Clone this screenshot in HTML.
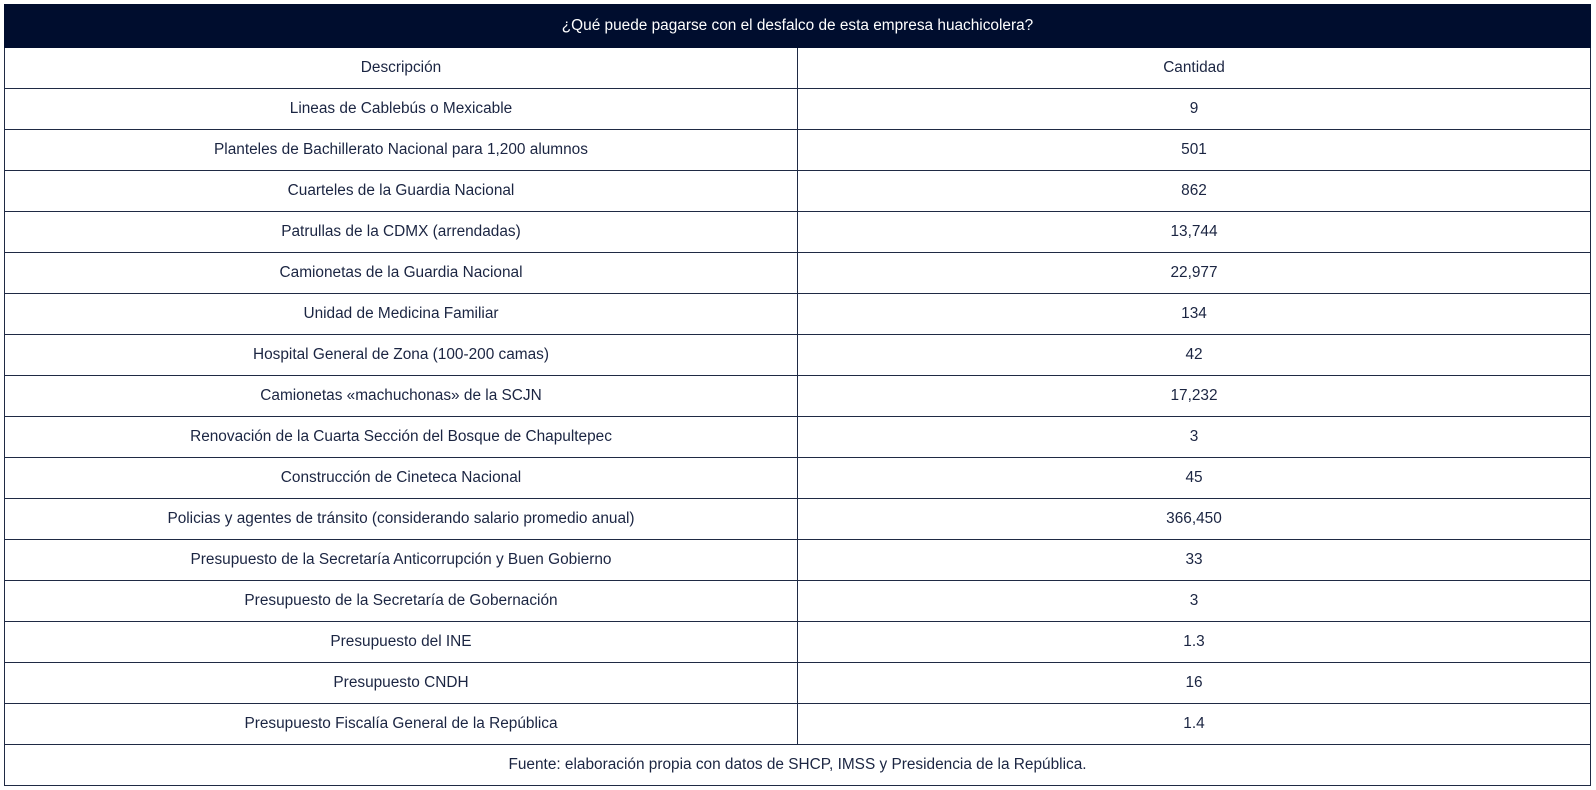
<!DOCTYPE html>
<html><head><meta charset="utf-8"><style>
body{margin:0;background:#fff;width:1596px;height:790px;overflow:hidden;font-family:"Liberation Sans",sans-serif;}
table{position:absolute;left:4px;top:4px;width:1587px;border-collapse:collapse;table-layout:fixed;}
tr{height:41px;}
tr.hr{height:43px;}
td,th{border:1.5px solid #1f2a44;padding:0;text-align:center;font-size:15.4px;color:#1b2542;font-weight:normal;}
th.h{background:#000d2e;color:#fff;border-color:#000d2e;}
</style></head><body>
<table>
<colgroup><col style="width:793px"><col></colgroup>
<tr class="hr"><th class="h" colspan="2">¿Qué puede pagarse con el desfalco de esta empresa huachicolera?</th></tr>
<tr><td>Descripción</td><td>Cantidad</td></tr>
<tr><td>Lineas de Cablebús o Mexicable</td><td>9</td></tr>
<tr><td>Planteles de Bachillerato Nacional para 1,200 alumnos</td><td>501</td></tr>
<tr><td>Cuarteles de la Guardia Nacional</td><td>862</td></tr>
<tr><td>Patrullas de la CDMX (arrendadas)</td><td>13,744</td></tr>
<tr><td>Camionetas de la Guardia Nacional</td><td>22,977</td></tr>
<tr><td>Unidad de Medicina Familiar</td><td>134</td></tr>
<tr><td>Hospital General de Zona (100-200 camas)</td><td>42</td></tr>
<tr><td>Camionetas «machuchonas» de la SCJN</td><td>17,232</td></tr>
<tr><td>Renovación de la Cuarta Sección del Bosque de Chapultepec</td><td>3</td></tr>
<tr><td>Construcción de Cineteca Nacional</td><td>45</td></tr>
<tr><td>Policias y agentes de tránsito (considerando salario promedio anual)</td><td>366,450</td></tr>
<tr><td>Presupuesto de la Secretaría Anticorrupción y Buen Gobierno</td><td>33</td></tr>
<tr><td>Presupuesto de la Secretaría de Gobernación</td><td>3</td></tr>
<tr><td>Presupuesto del INE</td><td>1.3</td></tr>
<tr><td>Presupuesto CNDH</td><td>16</td></tr>
<tr><td>Presupuesto Fiscalía General de la República</td><td>1.4</td></tr>
<tr><td colspan="2">Fuente: elaboración propia con datos de SHCP, IMSS y Presidencia de la República.</td></tr>
</table>
</body></html>
